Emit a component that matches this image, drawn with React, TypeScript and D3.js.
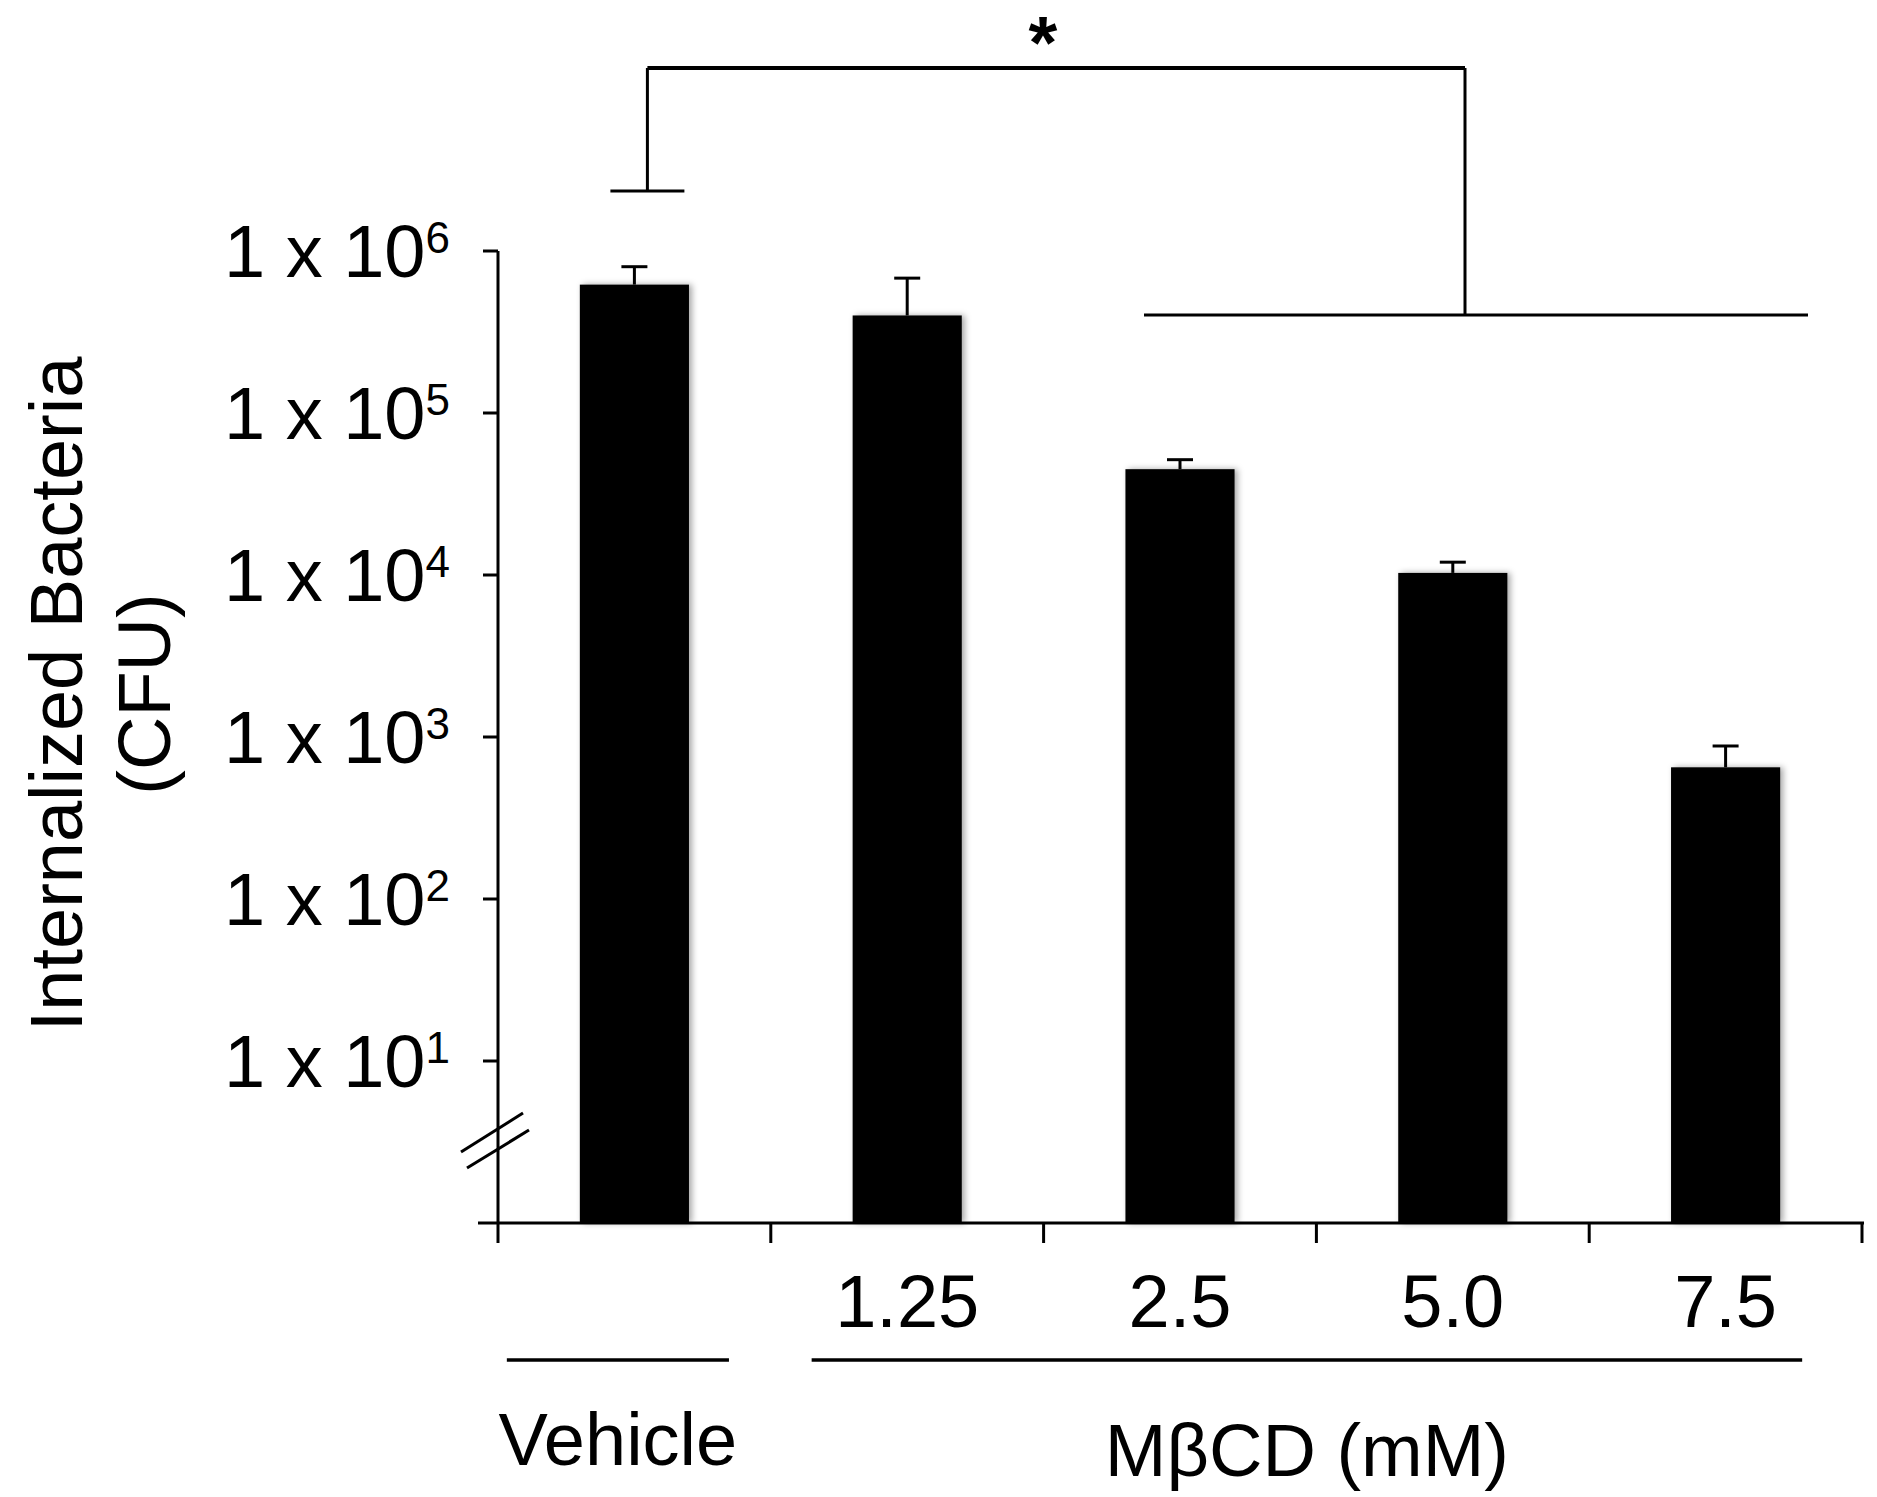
import React from "react";
import { scaleBand, scaleLog } from "d3";

// bar data
const categories = ["Vehicle", "1.25", "2.5", "5.0", "7.5"];
const tickLabels = ["", "1.25", "2.5", "5.0", "7.5"];
const means = [6.2e5, 4.0e5, 4.5e4, 1.03e4, 650];
const sems = [1.8e5, 2.8e5, 6.5e3, 1.7e3, 230];
const yTicks = [1e1, 1e2, 1e3, 1e4, 1e5, 1e6];
const groupLabels = ["Vehicle", "MβCD (mM)"];
const groupMembers = [["Vehicle"], ["1.25", "2.5", "5.0", "7.5"]];

const W = 1877;
const H = 1497;
const font = "'Liberation Sans', Arial, Helvetica, sans-serif";

export default function App() {
  const x = scaleBand<string>()
    .domain(categories)
    .range([498, 1862])
    .paddingInner(0.6)
    .paddingOuter(0.3);
  const y = scaleLog().domain([1, 1e6]).range([1223, 251]);
  const step = x.step();
  const bw = x.bandwidth();
  const x0 = x.range()[0];
  const yBase = y(1);
  const yTop = y(1e6);
  const cx = (c: string) => (x(c) ?? 0) + bw / 2;

  // group underline extents
  const groupSpans = [
    [x("Vehicle")! - 73, x("Vehicle")! + bw + 40],
    [x("1.25")! - 41, x("7.5")! + bw + 22],
  ];
  const groupBaselines = [1465, 1476];

  // significance bracket
  const leftX = cx("Vehicle") + 13;
  const rightX = 1465;
  const topY = yTop - 183;

  return (
    <svg
      width={W}
      height={H}
      style={{ position: "absolute", left: 0, top: 0, background: "#fff" }}
      fontFamily={font}
    >
      <defs>
        <filter id="barShadow" x="-20%" y="-5%" width="140%" height="110%">
          <feDropShadow dx="3" dy="0" stdDeviation="3" floodColor="#000" floodOpacity="0.35" />
        </filter>
      </defs>
      <rect width={W} height={H} fill="#fff" />

      {/* bars */}
      {categories.map((c, i) => (
        <rect
          key={c}
          x={x(c)}
          y={y(means[i])}
          width={bw}
          height={yBase - y(means[i])}
          fill="#000"
          filter="url(#barShadow)"
        />
      ))}

      {/* error bars (upper only) */}
      {categories.map((c, i) => {
        const top = y(means[i] + sems[i]);
        return (
          <g key={"e" + c} stroke="#000" strokeWidth={3}>
            <line x1={cx(c)} x2={cx(c)} y1={y(means[i])} y2={top} />
            <line x1={cx(c) - 13} x2={cx(c) + 13} y1={top} y2={top} />
          </g>
        );
      })}

      {/* y axis */}
      <line x1={x0} x2={x0} y1={yTop} y2={yBase} stroke="#000" strokeWidth={3} />
      {yTicks.map((t) => (
        <g key={t}>
          <line x1={x0 - 15} x2={x0} y1={y(t)} y2={y(t)} stroke="#000" strokeWidth={3} />
          <text x={450} y={y(t) + 26} textAnchor="end" fontSize={74}>
            <tspan>1 x 10</tspan>
            <tspan dy={-24} fontSize={44}>
              {Math.round(Math.log10(t))}
            </tspan>
          </text>
        </g>
      ))}

      {/* axis break */}
      <g stroke="#000" strokeWidth={3}>
        <line x1={461} y1={1152} x2={523} y2={1113} />
        <line x1={467} y1={1168} x2={529} y2={1130} />
      </g>

      {/* x axis */}
      <line x1={x0 - 20} x2={x0 + step * categories.length + 2} y1={yBase} y2={yBase} stroke="#000" strokeWidth={3} />
      {categories.map((c, i) => (
        <line
          key={"t" + c}
          x1={x0 + step * i}
          x2={x0 + step * i}
          y1={yBase}
          y2={yBase + 20}
          stroke="#000"
          strokeWidth={3}
        />
      ))}
      <line
        x1={x0 + step * categories.length}
        x2={x0 + step * categories.length}
        y1={yBase}
        y2={yBase + 20}
        stroke="#000"
        strokeWidth={3}
      />
      {categories.map((c, i) => (
        <text key={"l" + c} x={cx(c)} y={yBase + 104} textAnchor="middle" fontSize={74}>
          {tickLabels[i]}
        </text>
      ))}

      {/* group labels */}
      {groupLabels.map((g, i) => {
        const [a, b] = groupSpans[i];
        return (
          <g key={g}>
            <line x1={a} x2={b} y1={1360} y2={1360} stroke="#000" strokeWidth={3.5} />
            <text x={(a + b) / 2} y={groupBaselines[i]} textAnchor="middle" fontSize={74}>
              {g}
            </text>
          </g>
        );
      })}

      {/* y title */}
      <g fontSize={74} textAnchor="middle">
        <text transform="translate(82,694) rotate(-90)">Internalized Bacteria</text>
        <text transform="translate(170,694) rotate(-90)">(CFU)</text>
      </g>

      {/* significance bracket */}
      <g stroke="#000" fill="none" strokeWidth={3}>
        <line x1={leftX - 37} x2={leftX + 37} y1={yTop - 60} y2={yTop - 60} />
        <line x1={leftX} x2={leftX} y1={yTop - 60} y2={topY} />
        <line x1={leftX} x2={rightX} y1={topY} y2={topY} strokeWidth={4} />
        <line x1={rightX} x2={rightX} y1={topY} y2={yTop + 64} />
        <line x1={1144} x2={1808} y1={yTop + 64} y2={yTop + 64} />
      </g>
      <text x={1043} y={68} textAnchor="middle" fontSize={74} fontWeight="bold">
        *
      </text>
    </svg>
  );
}
